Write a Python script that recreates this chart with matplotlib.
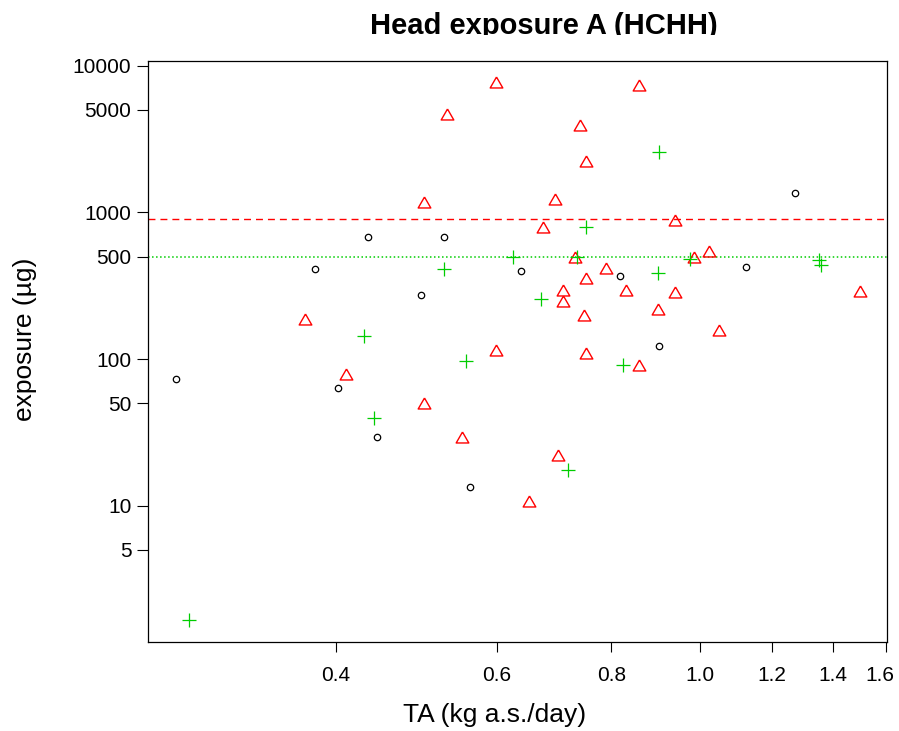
import numpy as np
import matplotlib
matplotlib.use("Agg")
import matplotlib.pyplot as plt
from matplotlib.patches import Rectangle
from matplotlib.transforms import ScaledTranslation

plt.rcParams["font.family"] = ["Liberation Sans", "DejaVu Sans"]
plt.rcParams["lines.scale_dashes"] = False

# black circles
ta_black = [0.267, 0.402, 0.4435, 0.560, 0.379, 0.434, 0.525, 0.495, 0.637, 0.817, 0.902, 1.123, 1.272]
exp_black = [72.8, 63.5, 29.6, 13.4, 413, 683, 683, 273, 400, 367, 123, 426, 1349]

# red triangles
ta_red = [0.599, 0.529, 0.499, 0.370, 0.410, 0.499, 0.549, 0.599, 0.650, 0.700, 0.674,
          0.695, 0.740, 0.750, 0.858, 0.939, 1.023, 0.731, 0.985, 0.789, 0.750, 0.708,
          0.830, 0.939, 1.498, 0.708, 0.747, 0.899, 1.050, 0.750, 0.859]
exp_red = [7780, 4687, 1177, 187, 78.8, 50.4, 29.6, 115, 10.8, 22.3, 799,
           1240, 3944, 2240, 7350, 892, 548, 494, 499, 418, 355, 296,
           297, 285, 291, 250, 199, 219, 158, 110, 91.2]

# green crosses
ta_green = [0.276, 0.429, 0.440, 0.525, 0.555, 0.625, 0.671, 0.718, 0.734, 0.750, 0.825,
            0.899, 0.902, 0.976, 1.350, 1.357]
exp_green = [1.665, 144, 39.7, 413, 97.5, 494, 258, 17.5, 494, 799, 91.6,
             388, 2569, 484, 474, 438]

# reference levels
level_red = 900
level_green = 500

x_ticks = [0.4, 0.6, 0.8, 1.0, 1.2, 1.4, 1.6]
x_labels = ["0.4", "0.6", "0.8", "1.0", "1.2", "1.4", "1.6"]
y_ticks = [5, 10, 50, 100, 500, 1000, 5000, 10000]
y_labels = ["5", "10", "50", "100", "500", "1000", "5000", "10000"]

red = "#FF0000"
green = "#00CD00"

W, H = 899, 731
fig = plt.figure(figsize=(W / 100, H / 100), dpi=100)
L, R, T, B = 147.7, 887, 60.7, 642
ax = fig.add_axes([L / W, 1 - B / H, (R - L) / W, (B - T) / H])

ax.set_xscale("log")
ax.set_yscale("log")
ax.set_xlim(0.2489, 1.6026)
ax.set_ylim(1.18, 10817)

ax.axhline(level_red, color=red, lw=1.0, ls=(0, (5, 3.6)), zorder=1)
ax.axhline(level_green, color=green, lw=1.1, ls=(0, (1.1, 1.8)), zorder=1)

tri = [(0, 0.5), (-0.577, -0.5), (0.577, -0.5), (0, 0.5)]
ax.plot(ta_black, exp_black, ls="none", marker="o", ms=4.6, mfc="none",
        mec="black", mew=0.9)
ax.plot(ta_red, exp_red, ls="none", marker=tri, ms=9.1, mfc="none",
        mec=red, mew=1.0)
ax.plot(ta_green, exp_green, ls="none", marker="+", ms=9.4, mec=green, mew=0.9)

ax.xaxis.set_major_locator(matplotlib.ticker.FixedLocator(x_ticks))
ax.xaxis.set_major_formatter(matplotlib.ticker.FixedFormatter(x_labels))
ax.xaxis.set_minor_locator(matplotlib.ticker.NullLocator())
ax.yaxis.set_major_locator(matplotlib.ticker.FixedLocator(y_ticks))
ax.yaxis.set_major_formatter(matplotlib.ticker.FixedFormatter(y_labels))
ax.yaxis.set_minor_locator(matplotlib.ticker.NullLocator())

ax.tick_params(axis="x", direction="out", length=7.5, width=0.8, pad=10, labelsize=15)
ax.tick_params(axis="y", direction="out", length=7.8, width=0.8, pad=4, labelsize=15)
for sp in ax.spines.values():
    sp.set_linewidth(0.9)

# last x label sits a little left of its tick so it stays inside the picture
last = ax.xaxis.get_major_ticks()[-1].label1
last.set_transform(last.get_transform() + ScaledTranslation(-6 / 100, 0, fig.dpi_scale_trans))

fig.text(495 / W, 1 - 715 / H, "TA (kg a.s./day)", ha="center", va="center", fontsize=19)
fig.text(25 / W, 1 - 339 / H, "exposure (µg)", ha="center", va="center",
         rotation=90, fontsize=19)
fig.text(544 / W, 1 - 34.3 / H, "Head exposure A (HCHH)", ha="center", va="baseline",
         fontsize=21, fontweight="bold")
# the title is clipped just below its baseline in the original
fig.patches.append(Rectangle((0, 1 - 59 / H), 1, (59 - 34.8) / H,
                             transform=fig.transFigure, facecolor="white",
                             edgecolor="none", zorder=5))

fig.savefig("out.png", dpi=100)
